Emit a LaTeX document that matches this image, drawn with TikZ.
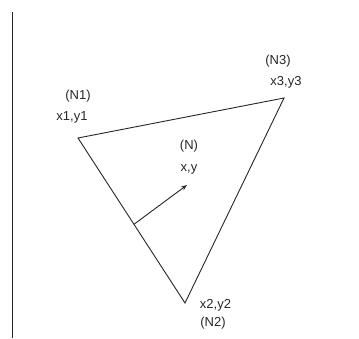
\documentclass[tikz,border=0pt]{standalone}
\usepackage{fontspec}
\setmainfont{Liberation Sans}
\usetikzlibrary{calc,arrows.meta}
\tikzset{
  lbl/.style={inner sep=0pt, font=\fontsize{13}{15}\selectfont, text=black!85},
  edge/.style={draw=black!85, line width=0.9pt},
}
\begin{document}
\begin{tikzpicture}[x=1pt,y=-1pt]
\useasboundingbox (0,0) rectangle (359,338);
% vertical line
\coordinate (vtop) at (12,12);
\coordinate (vbot) at (12,338);
\draw[edge] (vtop) -- (vbot);
% vertices
\coordinate (n1) at (78,138);
\coordinate (n2) at (185,303);
\coordinate (n3) at (284,98);
\draw[edge] (n1) -- (n3) -- (n2) -- cycle;
% arrow
\coordinate (a0) at ($(n1)!0.523!(n2)$);
\coordinate (a1) at (187,185);
\draw[edge,-{Stealth[length=6pt,width=4.5pt]}] (a0) -- (a1);
% labels
\node[lbl] (ln1) at (78,96) {(N1)};
\node[lbl] (lx1) at (72,117) {x1,y1};
\node[lbl] (ln3) at (278,61) {(N3)};
\node[lbl] (lx3) at (286,82) {x3,y3};
\node[lbl] (ln) at (189,146) {(N)};
\node[lbl] (lx) at (189,169) {x,y};
\node[lbl] (lx2) at (215.5,305) {x2,y2};
\node[lbl] (ln2) at (213,323) {(N2)};
\end{tikzpicture}
\end{document}
